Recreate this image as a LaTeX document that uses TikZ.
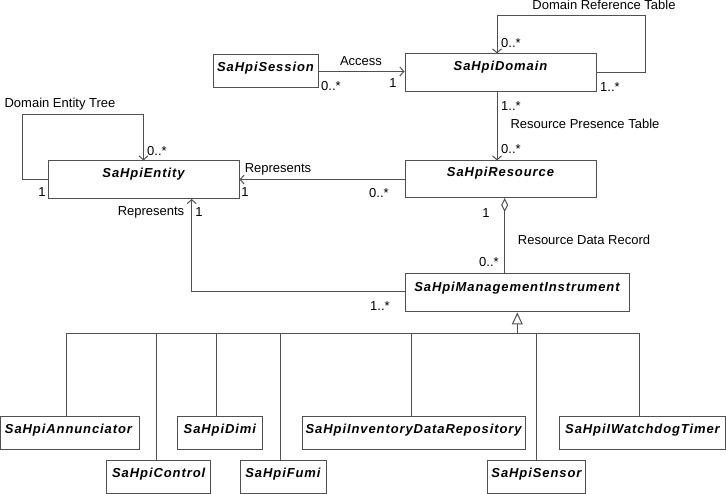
\documentclass[tikz,border=0pt]{standalone}
\usepackage{fontspec}
\setmainfont{Liberation Sans}
\newfontfamily\clsfont[LetterSpace=7]{Liberation Sans}
\usetikzlibrary{arrows.meta}
\definecolor{ln}{HTML}{505050}
\tikzset{
  cls/.style={draw=ln, line width=1pt, fill=white, inner sep=0pt},
  title/.style={inner sep=0pt, font=\clsfont\fontsize{13}{15}\selectfont\bfseries\itshape},
  lbl/.style={inner sep=0pt, font=\fontsize{13}{15}\selectfont},
  conn/.style={draw=ln, line width=1pt},
  assoc/.style={conn, -{Straight Barb[length=4pt,width=9pt,line width=1pt]}},
}
\begin{document}
\begin{tikzpicture}[x=1pt,y=-1pt]
\useasboundingbox (0,0) rectangle (726,494);
% classes
\node[cls, minimum width=105pt, minimum height=33pt] (session) at (265.5,71.5) {};
\node[title] (sessionT) at (265.5,68.5) {SaHpiSession};
\node[cls, minimum width=191pt, minimum height=38pt] (domain) at (500.5,73) {};
\node[title] (domainT) at (500.5,67.5) {SaHpiDomain};
\node[cls, minimum width=191pt, minimum height=37pt] (resource) at (500.5,179.5) {};
\node[title] (resourceT) at (500.5,173.5) {SaHpiResource};
\node[cls, minimum width=191pt, minimum height=38pt] (entity) at (143.5,180) {};
\node[title] (entityT) at (143.5,174) {SaHpiEntity};
\node[cls, minimum width=224pt, minimum height=38pt] (mi) at (517,293) {};
\node[title] (miT) at (517,288) {SaHpiManagementInstrument};
% children
\node[cls, minimum width=139pt, minimum height=33pt] (annun) at (69.5,432.5) {};
\node[title] (annunT) at (68.5,430.5) {SaHpiAnnunciator};
\node[cls, minimum width=104pt, minimum height=33pt] (control) at (158.7,476.5) {};
\node[title] (controlT) at (158.7,474.5) {SaHpiControl};
\node[cls, minimum width=84.3pt, minimum height=33pt] (dimi) at (219.85,432.5) {};
\node[title] (dimiT) at (219.85,430.5) {SaHpiDimi};
\node[cls, minimum width=86pt, minimum height=33pt] (fumi) at (283,476.5) {};
\node[title] (fumiT) at (283,474.5) {SaHpiFumi};
\node[cls, minimum width=223.3pt, minimum height=33pt] (inv) at (413.65,432.5) {};
\node[title] (invT) at (413.65,430.5) {SaHpiInventoryDataRepository};
\node[cls, minimum width=98.4pt, minimum height=33pt] (sensor) at (536.5,476.5) {};
\node[title] (sensorT) at (536.5,474.5) {SaHpiSensor};
\node[cls, minimum width=165.6pt, minimum height=33pt] (wd) at (642.5,432.5) {};
\node[title] (wdT) at (642.5,430.5) {SaHpiIWatchdogTimer};
% Access
\draw[assoc] (session.east) -- (session.east -| domain.west);
\node[lbl] (accL) at (361,61) {Access};
\node[lbl] (accM1) at (331,86) {0..*};
\node[lbl] (accM2) at (393,83) {1};
% Domain reference table
\coordinate (drtB) at (645,15.7);
\coordinate (drtA) at (497,15.7);
\draw[assoc] (domain.east) -| (drtB) -- (drtA) -- (drtA |- domain.north);
\node[lbl] (drtL) at (604,5) {Domain Reference Table};
\node[lbl] (drtM1) at (511,43) {0..*};
\node[lbl] (drtM2) at (610,87) {1..*};
% Resource presence table
\coordinate (rpt) at (497,92);
\draw[assoc] (rpt) -- (rpt |- resource.north);
\node[lbl] (rptM1) at (511,106) {1..*};
\node[lbl] (rptL) at (585,124) {Resource Presence Table};
\node[lbl] (rptM2) at (511,149) {0..*};
% Represents (resource -> entity)
\draw[assoc] (resource.west) -- (resource.west -| entity.east);
\node[lbl] (repL) at (278,169) {Represents};
\node[lbl] (repM1) at (245,192) {1};
\node[lbl] (repM2) at (379,193) {0..*};
% Domain entity tree
\coordinate (detA) at (22.7,114.7);
\draw[assoc] (entity.west) -| (detA) -| (entity.north);
\node[lbl] (detL) at (60,104) {Domain Entity Tree};
\node[lbl] (detM1) at (157,151) {0..*};
\node[lbl] (detM2) at (42,192) {1};
% Represents (mi -> entity)
\coordinate (mirep) at (191.7,199);
\coordinate (miw) at (405,291.7);
\draw[assoc] (miw) -| (mirep);
\node[lbl] (rep2L) at (151,212) {Represents};
\node[lbl] (rep2M1) at (199,212) {1};
\node[lbl] (rep2M2) at (380,306) {1..*};
% Aggregation resource data record
\coordinate (rdr) at (504.7,198);
\draw[conn, {Diamond[open,length=14pt,width=7pt,line width=1pt]}-] (rdr) -- (rdr |- mi.north);
\node[lbl] (rdrM1) at (486,213) {1};
\node[lbl] (rdrL) at (584,240) {Resource Data Record};
\node[lbl] (rdrM2) at (489,262) {0..*};
% Generalization
\coordinate (busL) at (66,333.3);
\coordinate (busR) at (639,333.3);
\draw[conn] (busL) -- (busR);
\draw[conn, -{Triangle[open,length=12pt,width=11pt,line width=1pt]}] (517.3,333.3) coordinate (gen) -- (gen |- mi.south);
\coordinate (bA) at (66,333.3);
\coordinate (bC) at (156.3,333.3);
\coordinate (bD) at (216,333.3);
\coordinate (bF) at (280.7,333.3);
\coordinate (bI) at (411.3,333.3);
\coordinate (bS) at (536.7,333.3);
\coordinate (bW) at (639,333.3);
\draw[conn] (bA) -- (bA |- annun.north);
\draw[conn] (bC) -- (bC |- control.north);
\draw[conn] (bD) -- (bD |- dimi.north);
\draw[conn] (bF) -- (bF |- fumi.north);
\draw[conn] (bI) -- (bI |- inv.north);
\draw[conn] (bS) -- (bS |- sensor.north);
\draw[conn] (bW) -- (bW |- wd.north);
\end{tikzpicture}
\end{document}
